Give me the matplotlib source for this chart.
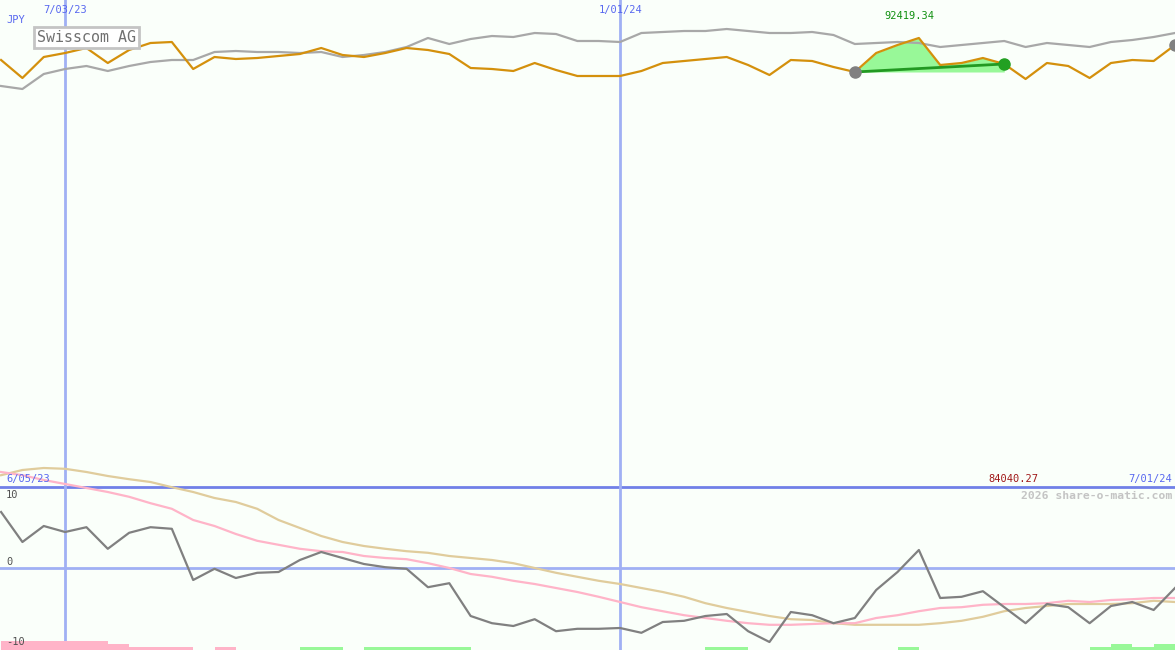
import numpy as np
import matplotlib.pyplot as plt

# weekly closes, 12 Jun 2023 .. 1 Jul 2024
swisscom = [87922, 84243, 88536, 89353, 90375, 87309, 89967, 91397, 91602, 86083,
            88536, 88127, 88331, 88740, 89149, 90375, 88944, 88536, 89353, 90375,
            89967, 89149, 86287, 86083, 85674, 87309, 85879, 84652, 84652, 84652,
            85674, 87309, 87718, 88127, 88536, 86901, 84857, 87922, 87718, 86492,
            85470, 89353, 90989, 92419.34, 86901, 87309, 88331, 87105, 84040.27, 87309,
            86696, 84243, 87309, 87922, 87718, 90989]
# comparison index, rescaled to the same units
index_line = [82608, 81995, 85061, 86083, 86696, 85674, 86696, 87514, 87922, 87922,
              89558, 89762, 89558, 89558, 89353, 89558, 88536, 88944, 89558, 90580,
              92419, 91193, 92215, 92828, 92624, 93441, 93237, 91806, 91806, 91602,
              93441, 93646, 93850, 93850, 94259, 93850, 93441, 93441, 93646, 93033,
              91193, 91397, 91602, 91397, 90580, 90989, 91397, 91806, 90580, 91397,
              90989, 90580, 91602, 92011, 92624, 93441]

osc = [7.0, 3.25, 5.25, 4.5, 5.1, 2.4, 4.4, 5.1, 4.9, -1.5,
       -0.1, -1.25, -0.6, -0.5, 1.0, 2.0, 1.25, 0.5, 0.1, -0.1,
       -2.4, -1.9, -6.0, -6.9, -7.25, -6.4, -7.9, -7.6, -7.6, -7.5,
       -8.1, -6.75, -6.6, -6.0, -5.75, -7.9, -9.25, -5.5, -5.9, -6.9,
       -6.25, -2.75, -0.5, 2.25, -3.75, -3.6, -2.9, -4.9, -6.9, -4.5,
       -4.9, -6.9, -4.75, -4.25, -5.25, -2.5]
osc_fast = [12.0, 11.6, 11.0, 10.5, 10.0, 9.5, 8.9, 8.1, 7.4, 6.0,
            5.25, 4.25, 3.4, 2.9, 2.4, 2.1, 2.0, 1.5, 1.25, 1.1,
            0.6, 0.0, -0.75, -1.1, -1.6, -2.0, -2.5, -3.0, -3.6, -4.25,
            -4.9, -5.4, -5.9, -6.25, -6.6, -6.9, -7.1, -7.1, -7.0, -6.9,
            -6.9, -6.25, -5.9, -5.4, -5.0, -4.9, -4.6, -4.5, -4.5, -4.4,
            -4.1, -4.25, -4.0, -3.9, -3.75, -3.75]
osc_slow = [11.6, 12.25, 12.5, 12.4, 12.0, 11.5, 11.1, 10.75, 10.1, 9.5,
            8.75, 8.25, 7.4, 6.0, 5.0, 4.0, 3.25, 2.75, 2.4, 2.1,
            1.9, 1.5, 1.25, 1.0, 0.6, 0.0, -0.6, -1.1, -1.6, -2.0,
            -2.5, -3.0, -3.6, -4.4, -5.0, -5.5, -6.0, -6.4, -6.5, -6.9,
            -7.1, -7.1, -7.1, -7.1, -6.9, -6.6, -6.1, -5.4, -5.0, -4.75,
            -4.5, -4.5, -4.5, -4.4, -4.1, -4.25]
signal_bars = [-1.1, -1.1, -1.1, -1.1, -1.1, -0.75, -0.4, -0.4, -0.4, 0,
               -0.4, 0, 0, 0, 0.4, 0.4, 0, 0.4, 0.4, 0.4,
               0.4, 0.4, 0, 0, 0, 0, 0, 0, 0, 0,
               0, 0, 0, 0.4, 0.4, 0, 0, 0, 0, 0,
               0, 0, 0.4, 0, 0, 0, 0, 0, 0, 0,
               0, 0.4, 0.75, 0.4, 0.75, 0]

month_marks = [(3, '7/03/23'), (29, '1/01/24')]
hi_i, lo_i = 43, 48
trade_start, trade_end = 40, 47

W, H = 1175, 650
bg = '#fafffa'
blue_txt = '#5868f0'
mono = 'DejaVu Sans Mono'

x = np.arange(len(swisscom))

fig = plt.figure(figsize=(W / 100, H / 100), dpi=100, facecolor=bg)
ax = fig.add_axes([0, 0, 1, 1])
ax.set_facecolor(bg)
ax.set_xlim(-0.05, 55)
ax.set_ylim(-10.25, 71)
ax.axis('off')

# oscillator panel
ax.axhline(0, color='#a0b0f4', lw=2, zorder=1)
ax.axhline(10.1, color='#7080e8', lw=2, zorder=1)
for xm, lab in month_marks:
    ax.axvline(xm, color='#a0b0f4', lw=2, zorder=1)
    fig.text(1 / W + xm * 21.35 / W, 1 - 10 / H, lab, color=blue_txt, fontsize=7.5,
             family=mono, ha='center', va='center')

b = np.array(signal_bars)
ax.bar(x, np.abs(b), bottom=-10.25, width=1, align='edge', zorder=2,
       color=np.where(b < 0, '#ffb4c8', '#98f898'))
ax.plot(x, osc_slow, color='#e0cc9c', lw=1.6, zorder=3)
ax.plot(x, osc_fast, color='#ffb4c8', lw=1.6, zorder=3)
ax.plot(x, osc, color='#808080', lw=1.6, zorder=4)

# price panel
ax2 = ax.twinx()
ax2.set_ylim(-32673.5, 100186.5)
ax2.axis('off')
s = np.array(swisscom)
seg = slice(trade_start, trade_end + 1)
ax2.fill_between(x[seg], s[seg], s[trade_start], color='#98f898', lw=0, zorder=2)
ax2.plot(x, index_line, color='#a8a8a8', lw=1.6, zorder=3)
ax2.plot(x, swisscom, color='#d4900c', lw=1.6, zorder=4)
ax2.plot([trade_start, trade_end], [s[trade_start], s[trade_end]], color='#229922', lw=2, zorder=5)
ax2.plot(trade_start, s[trade_start], 'o', color='#808080', ms=8, zorder=6)
ax2.plot(trade_end, s[trade_end], 'o', color='#22a022', ms=8, zorder=6)
ax2.plot(x[-1], s[-1], 'o', color='#808080', ms=8, zorder=6)
ax2.annotate('%.2f' % s[hi_i], (hi_i, s[hi_i]), xytext=(-7, 12), textcoords='offset points',
             ha='center', va='bottom', color='#109010', fontsize=7.5, family=mono)

# text
fig.text(6 / W, 1 - 20 / H, 'JPY', color=blue_txt, fontsize=7.5, family=mono, va='center')
fig.text(37 / W, 1 - 37 / H, 'Swisscom AG', color='#707070', fontsize=10.8, family=mono,
         va='center', zorder=10,
         bbox=dict(boxstyle='square,pad=0.2', fc='white', ec='#c4c4c4', lw=2))
fig.text(6 / W, 1 - 479 / H, '6/05/23', color=blue_txt, fontsize=7.5, family=mono, va='center')
fig.text(1172 / W, 1 - 479 / H, '7/01/24', color=blue_txt, fontsize=7.5, family=mono,
         ha='right', va='center')
fig.text(1013 / W, 1 - 479 / H, '%.2f' % s[lo_i], color='#a01818', fontsize=7.5, family=mono,
         ha='center', va='center')
fig.text(1172 / W, 1 - 496 / H, '2026 share-o-matic.com', color='#c4c4c4', fontsize=8.2,
         family=mono, weight='bold', ha='right', va='center')
for lab, yp in [('10', 495), ('0', 562), ('-10', 642)]:
    fig.text(6 / W, 1 - yp / H, lab, color='#505050', fontsize=7.5, family=mono, va='center')

fig.savefig('out.png', dpi=100, facecolor=bg)
